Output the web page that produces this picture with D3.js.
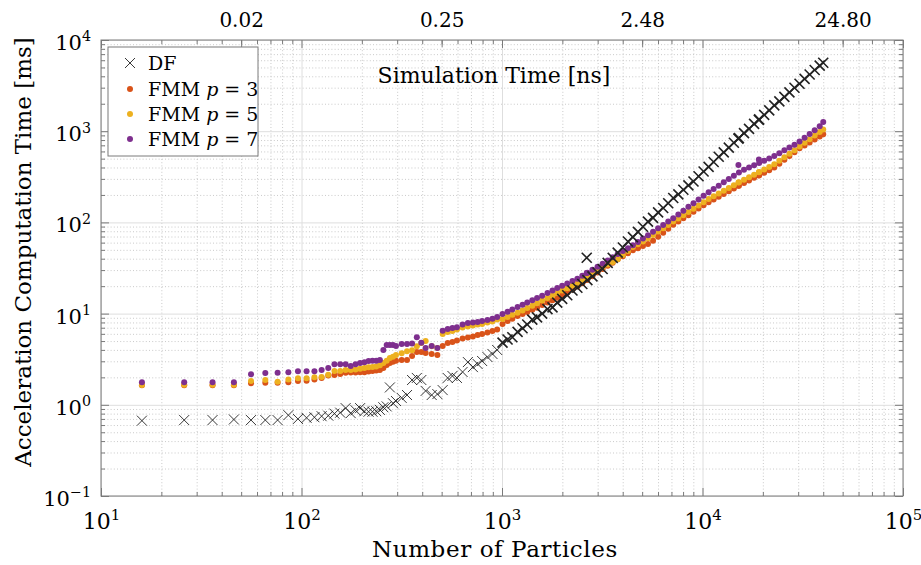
<!DOCTYPE html>
<html>
<head>
<meta charset="utf-8">
<script src="https://cdn.jsdelivr.net/npm/d3@7"></script>
<style>
  body { margin: 0; background: #fff; }
  text { font-family: "DejaVu Serif", "Liberation Serif", serif; fill: #000; }
</style>
</head>
<body>
<div class="container"></div>
<script>
(function(){

    // number of particles (shared x values of all series)
    var particles = [
        16,26,36,46,56,66,76,86,96,106,116,126,136,146,156,166,176,186,196,206,
        216,226,236,246,256,266,276,286,296,
        316,336,356,376,396,416,446,476,506,536,566,596,636,676,716,756,796,846,896,946,
        1006,1066,1126,1196,1266,1336,1416,1496,1586,1686,
        1786,1886,1996,2116,2246,2376,2516,2646,2666,2826,
        2996,3176,3366,3566,3776,4006,4246,4496,4766,5046,
        5346,5666,6006,6366,6746,7146,7576,8026,8506,9016,
        9556,10126,10726,11366,12046,12766,13526,14336,15106,15196,
        16106,17066,18086,19106,19166,20306,21516,22806,24166,25606,
        27136,28756,30476,32296,34226,36266,38426,40006
    ];

    // acceleration computation time [ms]
    var dfTime = [
        0.67,0.68,0.68,0.69,0.68,0.68,0.68,0.77,0.70,0.72,0.73,0.75,0.76,0.80,0.82,0.92,0.81,0.87,0.92,0.85,
        0.84,0.84,0.85,0.88,0.94,0.96,1.55,1.04,1.10,
        1.19,1.28,1.87,1.97,1.87,1.42,1.28,1.31,1.45,1.97,2.07,1.97,2.29,2.94,2.59,2.80,3.02,3.34,3.61,3.99,
        4.8,5.2,5.5,6.3,6.9,7.6,8.6,9.1,10.0,11.2,
        11.7,13.2,14.5,15.9,17.9,19.2,21.1,41,23.3,25.6,
        28.2,30.8,36.0,40.9,46.6,53.1,61.8,68.9,78.7,89.5,
        102,112,129,144,162,185,203,228,255,281,
        321,361,406,459,525,586,661,746,830,841,
        951,1060,1202,1330,1346,1510,1690,1920,2123,2382,
        2667,2992,3310,3750,4188,4688,5236,5636
    ];

    var fmm3Time = [
        1.64,1.64,1.64,1.64,1.72,1.75,1.74,1.77,1.82,1.84,1.90,1.97,2.10,2.12,2.18,2.25,2.26,2.26,2.27,2.27,
        2.32,2.35,2.38,2.41,2.53,2.74,2.87,2.97,3.05,
        3.10,3.10,3.43,3.80,3.80,3.70,3.61,3.51,4.42,4.77,4.88,5.07,5.33,5.47,5.61,5.83,5.97,6.21,6.44,6.69,
        7.7,8.3,8.8,9.4,9.9,10.4,11.0,11.6,12.4,13.2,
        14.0,14.9,15.8,17.0,18.4,19.8,21.5,23.4,23.6,25.7,
        28.2,30.8,33.4,36.2,39.4,42.5,45.8,49.4,52.2,55.0,
        57.8,62.8,69.7,76.9,85.1,94.2,102,111,120,131,
        142,154,166,178,191,205,220,236,252,253,
        270,288,308,327,328,350,373,399,440,485,
        533,589,649,697,752,811,877,925
    ];

    var fmm5Time = [
        1.65,1.66,1.66,1.66,1.82,1.87,1.79,1.90,1.95,1.95,2.00,2.02,2.14,2.35,2.35,2.41,2.41,2.44,2.48,2.53,
        2.58,2.60,2.63,2.71,2.87,3.05,3.26,3.37,3.51,
        3.68,3.87,3.97,4.39,4.77,5.00,4.39,4.20,5.97,6.28,6.44,6.69,7.05,7.22,7.41,7.59,7.69,7.98,8.18,8.61,
        8.7,9.2,9.7,10.2,10.8,11.5,12.2,13.0,13.9,14.8,
        15.8,16.8,17.9,19.0,20.3,21.6,23.3,25.2,25.4,27.6,
        30.1,32.4,34.6,36.8,39.5,43.8,48.5,53.8,57.5,61.9,
        67.1,72.9,79.3,86.1,93.5,102,110,120,130,141,
        153,166,180,194,207,223,239,256,273,275,
        294,313,334,355,356,380,406,435,474,519,
        566,619,681,746,817,895,982,1047
    ];

    var fmm7Time = [
        1.77,1.77,1.77,1.77,2.16,2.23,2.25,2.27,2.33,2.33,2.33,2.41,2.53,2.78,2.78,2.78,2.66,2.78,2.87,2.92,
        3.02,3.05,3.05,3.10,3.99,4.53,4.53,4.53,4.42,
        4.65,4.65,4.70,5.50,4.80,4.20,4.40,4.20,6.50,6.80,6.95,7.10,7.60,7.90,8.00,8.10,8.30,8.50,8.80,9.20,
        9.9,10.5,11.1,11.8,12.5,13.2,14.0,14.8,15.7,16.8,
        17.9,19.1,20.2,21.4,22.8,24.1,26.0,27.8,28.1,30.3,
        32.7,35.3,38.3,41.5,44.9,48.5,52.2,56.2,60.8,66.5,
        72.4,78.9,86.1,93.8,102,111,122,134,148,162,
        178,196,214,232,252,275,299,324,425,353,
        377,399,423,490,448,474,502,535,574,617,
        662,711,769,847,931,1026,1130,1259
    ];

    // secondary (top) axis: simulation time [ns] at these particle counts
    var simTicks  = [50, 500, 5000, 50000];
    var simLabels = ["0.02", "0.25", "2.48", "24.80"];

    var xMajor = [1e1, 1e2, 1e3, 1e4, 1e5];
    var yMajor = [1e-1, 1e0, 1e1, 1e2, 1e3, 1e4];

    var series = [
        { name: "FMM", p: 3, values: fmm3Time, color: "#D95319" },
        { name: "FMM", p: 5, values: fmm5Time, color: "#EDB120" },
        { name: "FMM", p: 7, values: fmm7Time, color: "#7E2F8E" }
    ];

    var left = 101, right = 903, top = 40, bottom = 496;
    var axisColor = "#7a7a7a";

    var svg = d3.select(".container").append("svg")
        .attr("width", 921)
        .attr("height", 565);

    var x = d3.scaleLog().domain([10, 1e5]).range([left, right]);
    var y = d3.scaleLog().domain([0.1, 1e4]).range([bottom, top]);

    function isMajor(v) { return Math.abs(Math.log10(v) - Math.round(Math.log10(v))) < 1e-9; }
    var xMinor = x.ticks().filter(function(v) { return !isMajor(v); });
    var yMinor = y.ticks().filter(function(v) { return !isMajor(v); });

    // grid
    var grid = svg.append("g");
    grid.append("g")
        .attr("transform", "translate(0," + bottom + ")")
        .call(d3.axisBottom(x).tickValues(xMinor).tickSize(-(bottom - top)).tickFormat(""));
    grid.append("g")
        .attr("transform", "translate(" + left + ",0)")
        .call(d3.axisLeft(y).tickValues(yMinor).tickSize(-(right - left)).tickFormat(""));
    grid.selectAll("line").attr("stroke", "#bdbdbd").attr("stroke-dasharray", "1,2.2").attr("stroke-width", 0.8);
    var gridMaj = svg.append("g");
    gridMaj.append("g")
        .attr("transform", "translate(0," + bottom + ")")
        .call(d3.axisBottom(x).tickValues(xMajor).tickSize(-(bottom - top)).tickFormat(""));
    gridMaj.append("g")
        .attr("transform", "translate(" + left + ",0)")
        .call(d3.axisLeft(y).tickValues(yMajor).tickSize(-(right - left)).tickFormat(""));
    gridMaj.selectAll("line").attr("stroke", "#dedede").attr("stroke-width", 1);
    svg.selectAll(".domain").remove();

    // data
    var plot = svg.append("g");
    series.forEach(function(s) {
        plot.append("g").selectAll("circle")
            .data(particles.map(function(n, i) { return [n, s.values[i]]; }).filter(function(d) { return d[1] != null; }))
            .enter().append("circle")
            .attr("cx", function(d) { return x(d[0]); })
            .attr("cy", function(d) { return y(d[1]); })
            .attr("r", 3)
            .attr("fill", s.color);
    });

    var cross = "M-5,-5L5,5M-5,5L5,-5";
    plot.append("g").selectAll("path")
        .data(particles.map(function(n, i) { return [n, dfTime[i]]; }).filter(function(d) { return d[1] != null; }))
        .enter().append("path")
        .attr("d", cross)
        .attr("transform", function(d) { return "translate(" + x(d[0]) + "," + y(d[1]) + ")"; })
        .attr("fill", "none")
        .attr("stroke", "#222")
        .attr("stroke-width", function(d) { return d[0] > 1000 ? 1.6 : 0.9; });

    // ticks on all four sides (inward)
    function ticksG(axis, tr) {
        var g = svg.append("g").attr("transform", tr).call(axis);
        g.selectAll(".domain").remove();
        g.selectAll("line").attr("stroke", axisColor);
        return g;
    }
    ticksG(d3.axisBottom(x).tickValues(xMinor).tickSize(-4).tickFormat(""), "translate(0," + bottom + ")");
    ticksG(d3.axisTop(x).tickValues(xMinor).tickSize(-4).tickFormat(""), "translate(0," + top + ")");
    ticksG(d3.axisLeft(y).tickValues(yMinor).tickSize(-4).tickFormat(""), "translate(" + left + ",0)");
    ticksG(d3.axisRight(y).tickValues(yMinor).tickSize(-4).tickFormat(""), "translate(" + right + ",0)");
    ticksG(d3.axisTop(x).tickValues(xMajor).tickSize(-8).tickFormat(""), "translate(0," + top + ")");
    ticksG(d3.axisRight(y).tickValues(yMajor).tickSize(-8).tickFormat(""), "translate(" + right + ",0)");

    function pow10(sel) {
        sel.each(function(d) {
            var t = d3.select(this), e = Math.round(Math.log10(d));
            t.text(null);
            t.append("tspan").text("10");
            t.append("tspan").attr("dy", "-0.6em").attr("font-size", "0.68em")
                .text(e < 0 ? "\u2212" + (-e) : e);
        });
    }

    var gx = ticksG(d3.axisBottom(x).tickValues(xMajor).tickSize(-8).tickPadding(17), "translate(0," + bottom + ")");
    gx.selectAll("text").attr("font-size", 22).attr("fill", "#000").call(pow10);

    var gy = ticksG(d3.axisLeft(y).tickValues(yMajor).tickSize(-8).tickPadding(10), "translate(" + left + ",0)");
    gy.selectAll("text").attr("font-size", 21).attr("fill", "#000").attr("dy", "0.45em").call(pow10);

    var gt = ticksG(d3.axisTop(x).tickValues(simTicks).tickSize(-7).tickPadding(13)
        .tickFormat(function(d, i) { return simLabels[i]; }), "translate(0," + top + ")");
    gt.selectAll("text").attr("font-size", 20).attr("fill", "#000");

    // box
    svg.append("rect")
        .attr("x", left).attr("y", top)
        .attr("width", right - left).attr("height", bottom - top)
        .attr("fill", "none").attr("stroke", axisColor).attr("stroke-width", 1);

    // axis titles
    svg.append("text")
        .attr("x", 495).attr("y", 557)
        .attr("text-anchor", "middle").attr("font-size", 23).attr("letter-spacing", 0.6)
        .text("Number of Particles");
    svg.append("text")
        .attr("transform", "translate(31,252) rotate(-90)")
        .attr("text-anchor", "middle").attr("font-size", 23)
        .text("Acceleration Computation Time [ms]");
    svg.append("text")
        .attr("x", 494).attr("y", 83)
        .attr("text-anchor", "middle").attr("font-size", 22)
        .text("Simulation Time [ns]");

    // legend
    var legend = svg.append("g").attr("transform", "translate(108,47)");
    legend.append("rect")
        .attr("width", 150).attr("height", 109)
        .attr("fill", "#fff").attr("stroke", axisColor);
    var ly = [16, 42, 67, 92];
    legend.append("path").attr("d", cross)
        .attr("transform", "translate(22," + ly[0] + ")")
        .attr("fill", "none").attr("stroke", "#222").attr("stroke-width", 0.9);
    legend.append("text").attr("x", 40).attr("y", ly[0]).attr("dy", "0.36em")
        .attr("font-size", 19).text("DF");
    series.forEach(function(s, i) {
        legend.append("circle").attr("cx", 22).attr("cy", ly[i + 1]).attr("r", 3).attr("fill", s.color);
        var t = legend.append("text").attr("x", 40).attr("y", ly[i + 1]).attr("dy", "0.36em").attr("font-size", 19);
        t.append("tspan").text(s.name + " ");
        t.append("tspan").attr("font-style", "italic").text("p");
        t.append("tspan").text(" = " + s.p);
    });

})();
</script>
</body>
</html>
